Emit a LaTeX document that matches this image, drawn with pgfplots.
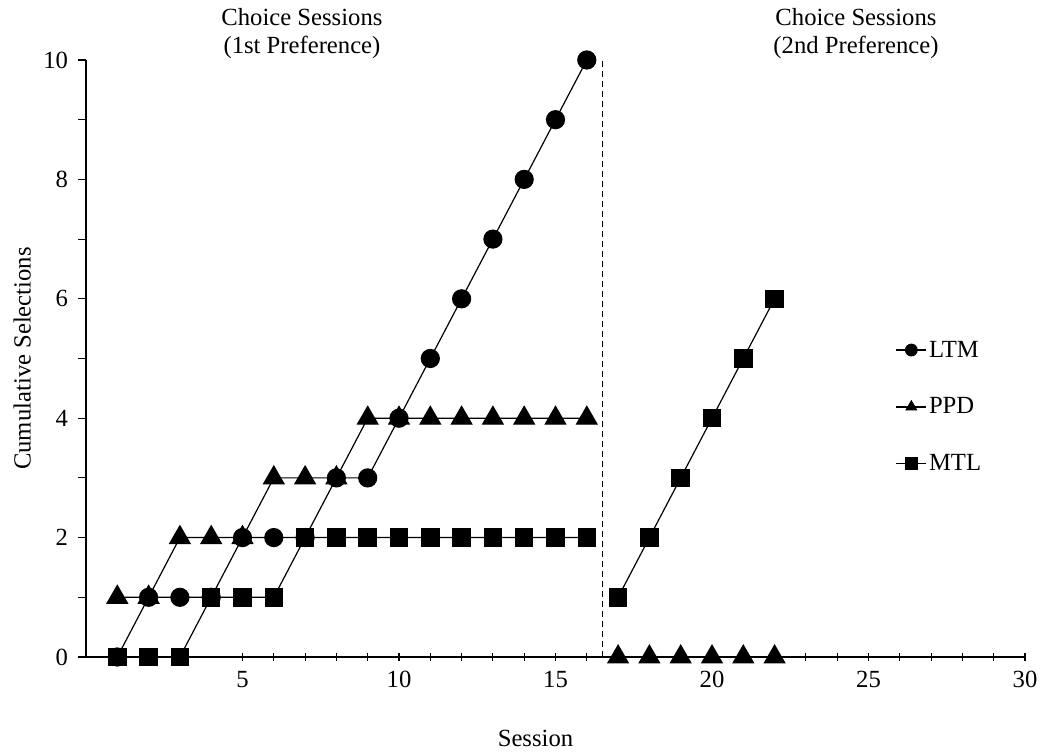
\documentclass[border=0pt]{standalone}
\usepackage{fontspec}
\setmainfont{Liberation Serif}
\usepackage{pgfplots}
\pgfplotsset{compat=1.18}
\begin{document}
\begin{tikzpicture}[font=\fontsize{18.5}{21}\selectfont]
\begin{axis}[
  scale only axis,
  width=704.25pt, height=447.75pt,
  xmin=0, xmax=30, ymin=0, ymax=10,
  axis lines=left,
  axis line style={-, line width=1.1pt},
  xtick={5,10,...,30}, minor x tick num=4,
  ytick={0,2,...,10}, minor y tick num=1,
  x tick style={line width=0.8pt, black},
  y tick style={line width=0.8pt, black},
  xtick align=center, ytick align=outside,
  major tick length=6pt, minor tick length=6pt,
  /pgf/number format/assume math mode=true,
  xticklabel style={yshift=-4pt},
  yticklabel style={xshift=-4pt},
  xlabel={Session},
  xlabel style={at={(axis description cs:0.4787,0)}, anchor=north, yshift=-51pt},
  ylabel={Cumulative Selections},
  ylabel style={at={(axis description cs:-0.068,0.5)}, anchor=center},
  clip=false,
  legend style={draw=none, fill=none, at={(axis description cs:0.862,0.419)}, anchor=west,
    row sep=26pt, inner sep=0pt, nodes={inner sep=1.5pt}},
  legend cell align=left,
  legend image code/.code={\draw[mark repeat=2,mark phase=2,mark size=4.3pt,line width=1pt] plot coordinates {(0pt,0pt) (11.25pt,0pt) (22.5pt,0pt)};},
]
% LTM
\addplot[black, line width=0.9pt, mark=*, mark size=6.75pt] coordinates {
 (1,0) (2,1) (3,1) (4,1) (5,2) (6,2) (7,2) (8,3) (9,3) (10,4) (11,5) (12,6) (13,7) (14,8) (15,9) (16,10)};
\addlegendentry{LTM}
% PPD
\addplot[black, line width=0.9pt, mark=triangle*, mark size=8.8pt] coordinates {
 (1,1) (2,1) (3,2) (4,2) (5,2) (6,3) (7,3) (8,3) (9,4) (10,4) (11,4) (12,4) (13,4) (14,4) (15,4) (16,4)};
\addlegendentry{PPD}
% MTL
\addplot[black, line width=0.9pt, mark=square*, mark size=6.5pt] coordinates {
 (1,0) (2,0) (3,0) (4,1) (5,1) (6,1) (7,2) (8,2) (9,2) (10,2) (11,2) (12,2) (13,2) (14,2) (15,2) (16,2)};
\addlegendentry{MTL}
% second phase
\addplot[black, line width=0.9pt, mark=triangle*, mark size=8.8pt, forget plot] coordinates {
 (17,0) (18,0) (19,0) (20,0) (21,0) (22,0)};
\addplot[black, line width=0.9pt, mark=square*, mark size=6.5pt, forget plot] coordinates {
 (17,1) (18,2) (19,3) (20,4) (21,5) (22,6)};
% phase line
\addplot[black, line width=1pt, dash pattern=on 4.5pt off 3pt, forget plot] coordinates {(16.5,0) (16.5,10)};
\node[align=center] at (axis cs:6.9,10.45) {Choice Sessions\\(1st Preference)};
\node[align=center] at (axis cs:24.6,10.45) {Choice Sessions\\(2nd Preference)};
\end{axis}
\pgfresetboundingbox
\path ([xshift=-64.5pt,yshift=-71.25pt]current axis.south west) rectangle ([xshift=12.75pt,yshift=45pt]current axis.north east);
\end{tikzpicture}
\end{document}
